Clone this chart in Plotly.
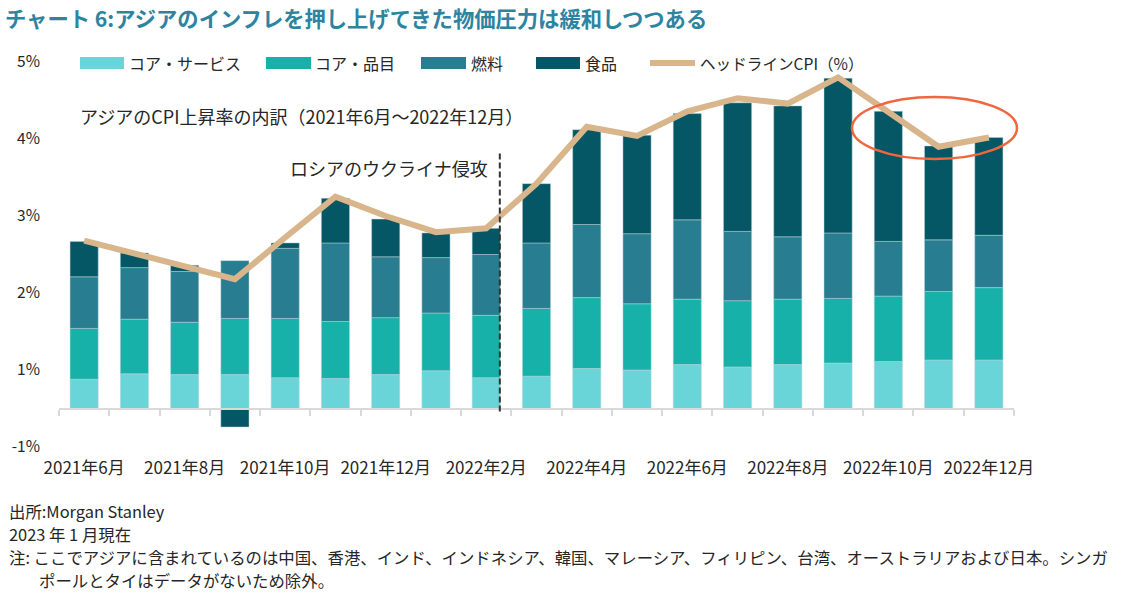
import numpy as np
import plotly.graph_objects as go

# ---------------- data ----------------
months = ["2021年6月", "2021年7月", "2021年8月", "2021年9月", "2021年10月", "2021年11月",
          "2021年12月", "2022年1月", "2022年2月", "2022年3月", "2022年4月", "2022年5月",
          "2022年6月", "2022年7月", "2022年8月", "2022年9月", "2022年10月", "2022年11月",
          "2022年12月"]
tick_labels = ["2021年6月", "", "2021年8月", "", "2021年10月", "", "2021年12月", "",
               "2022年2月", "", "2022年4月", "", "2022年6月", "", "2022年8月", "",
               "2022年10月", "", "2022年12月"]

core_services = [0.38, 0.45, 0.44, 0.44, 0.40, 0.39, 0.44, 0.49, 0.40, 0.42, 0.52, 0.50,
                 0.57, 0.54, 0.57, 0.59, 0.61, 0.63, 0.63]
core_goods = [0.66, 0.71, 0.68, 0.73, 0.77, 0.74, 0.74, 0.75, 0.81, 0.88, 0.92, 0.86,
              0.85, 0.86, 0.85, 0.84, 0.85, 0.89, 0.94]
fuel = [0.67, 0.67, 0.66, 0.75, 0.91, 1.02, 0.79, 0.72, 0.79, 0.85, 0.95, 0.91,
        1.03, 0.90, 0.81, 0.85, 0.71, 0.67, 0.68]
food = [0.46, 0.19, 0.08, -0.24, 0.07, 0.58, 0.49, 0.32, 0.34, 0.77, 1.23, 1.28,
        1.38, 1.67, 1.70, 2.01, 1.69, 1.22, 1.27]
headline = [2.68, 2.51, 2.35, 2.18, 2.72, 3.25, 3.00, 2.79, 2.84, 3.42, 4.16, 4.04,
            4.36, 4.53, 4.46, 4.80, 4.35, 3.90, 4.02]

y_tick_vals = [0, 1, 2, 3, 4, 5]
y_tick_text = ["-1%", "1%", "2%", "3%", "4%", "5%"]

series_names = ["コア・サービス", "コア・品目", "燃料", "食品"]
headline_name = "ヘッドラインCPI（%）"

# ---------------- style ----------------
AXIS_CROSS = 0.5
colors = ["#69D5D8", "#18B1AA", "#287D91", "#055765"]
line_color = "#D8B58A"
text_color = "#262626"
FONT = "Noto Sans CJK JP"

W, H = 1128, 601
L, R, T, B = 59, 114, 62, 154
PW, PH = W - L - R, H - T - B


def xp(px):
    return (px - L) / PW


def yp(py):
    return (H - B - py) / PH


fig = go.Figure()

pos_base = np.full(len(months), AXIS_CROSS)
neg_base = np.full(len(months), AXIS_CROSS)
for name, vals, col in zip(series_names, [core_services, core_goods, fuel, food], colors):
    v = np.array(vals)
    base = np.where(v >= 0, pos_base, neg_base)
    fig.add_trace(go.Bar(x=months, y=v, base=base, name=name, width=0.56,
                         marker=dict(color=col, line=dict(color="rgba(190,210,215,0.6)", width=0.8)),
                         showlegend=False))
    pos_base = pos_base + np.where(v >= 0, v, 0)
    neg_base = neg_base + np.where(v < 0, v, 0)

fig.add_trace(go.Scatter(x=months, y=headline, mode="lines", name=headline_name,
                         line=dict(color=line_color, width=6), showlegend=False))

shapes = []
# Russia invasion marker
shapes.append(dict(type="line", xref="x", yref="y", x0=8.27, x1=8.27, y0=0.46, y1=3.82,
                   line=dict(color="#333333", width=2, dash="6px,3px")))
# highlight ellipse (paper coords so it is not clipped by the plot area)
shapes.append(dict(type="circle", xref="paper", yref="paper",
                   x0=xp(852), x1=xp(1017), y0=yp(159), y1=yp(97),
                   line=dict(color="#F0673F", width=2.5)))

# custom legend
annotations = []
leg_y = 63
swatches = [(80, 124, 127), (266, 311, 313), (421, 466, 469), (536, 580, 583)]
for (x0, x1, tx), col, name in zip(swatches, colors, series_names):
    shapes.append(dict(type="rect", xref="paper", yref="paper", x0=xp(x0), x1=xp(x1),
                       y0=yp(leg_y + 6), y1=yp(leg_y - 6), fillcolor=col, line=dict(width=0)))
    annotations.append(dict(x=xp(tx), y=yp(leg_y), xref="paper", yref="paper", text=name,
                            showarrow=False, xanchor="left", yanchor="middle",
                            font=dict(size=16, color=text_color, family=FONT)))
shapes.append(dict(type="line", xref="paper", yref="paper", x0=xp(650), x1=xp(695),
                   y0=yp(leg_y), y1=yp(leg_y), line=dict(color=line_color, width=6)))
annotations.append(dict(x=xp(698), y=yp(leg_y), xref="paper", yref="paper", text=headline_name,
                        showarrow=False, xanchor="left", yanchor="middle",
                        font=dict(size=15.6, color=text_color, family=FONT)))

# in-plot notes
annotations.append(dict(x=xp(78), y=yp(116), xref="paper", yref="paper",
                        text="アジアのCPI上昇率の内訳（2021年6月～2022年12月）",
                        showarrow=False, xanchor="left", yanchor="middle",
                        font=dict(size=18, color=text_color, family=FONT)))
annotations.append(dict(x=xp(490), y=yp(168), xref="paper", yref="paper",
                        text="ロシアのウクライナ侵攻",
                        showarrow=False, xanchor="right", yanchor="middle",
                        font=dict(size=18, color=text_color, family=FONT)))

# title
annotations.append(dict(x=xp(3), y=yp(18), xref="paper", yref="paper",
                        text="<b>チャート 6:アジアのインフレを押し上げてきた物価圧力は緩和しつつある</b>",
                        showarrow=False, xanchor="left", yanchor="middle",
                        font=dict(size=21.3, color="#2E84A0", family=FONT)))

# footer
footer = [
    (7, 511, "出所:Morgan Stanley"),
    (7, 534, "2023 年 1 月現在"),
    (7, 557, "注: ここでアジアに含まれているのは中国、香港、インド、インドネシア、韓国、マレーシア、フィリピン、台湾、オーストラリアおよび日本。シンガ"),
    (37, 580, "ポールとタイはデータがないため除外。"),
]
for fx, fy, txt in footer:
    annotations.append(dict(x=xp(fx), y=yp(fy), xref="paper", yref="paper", text=txt,
                            showarrow=False, xanchor="left", yanchor="middle",
                            font=dict(size=16.4, color=text_color, family=FONT)))

fig.update_layout(
    width=W, height=H,
    margin=dict(l=L, r=R, t=T, b=B, pad=0),
    paper_bgcolor="white", plot_bgcolor="white",
    barmode="overlay",
    showlegend=False,
    hovermode=False,
    shapes=shapes,
    annotations=annotations,
    font=dict(family=FONT, color=text_color),
    xaxis=dict(type="category", range=[-0.5, len(months) - 0.5],
               anchor="free", position=AXIS_CROSS / 5,
               showline=True, linecolor="#D9D9D9", linewidth=2,
               ticks="outside", tickson="boundaries", ticklen=6, tickcolor="#D9D9D9", tickwidth=2,
               tickmode="array", tickvals=months, ticktext=tick_labels,
               ticklabelstandoff=44, tickangle=0,
               tickfont=dict(size=17, color=text_color, family=FONT),
               showgrid=False, zeroline=False, fixedrange=True),
    yaxis=dict(range=[0, 5], tickmode="array", tickvals=y_tick_vals, ticktext=y_tick_text,
               showgrid=False, zeroline=False, showline=False, ticks="",
               ticklabelstandoff=18, fixedrange=True,
               tickfont=dict(size=15.5, color=text_color, family=FONT)),
)

fig.write_html("out.html", config={"displayModeBar": False, "staticPlot": True},
               post_script="document.body.style.margin='0';document.body.style.overflow='hidden';")
